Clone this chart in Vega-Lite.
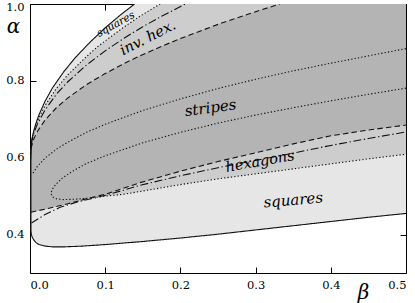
{
  "$schema": "https://vega.github.io/schema/vega-lite/v6.json",
  "width": 376,
  "height": 269,
  "autosize": {"type": "none"},
  "padding": {"left": 30, "top": 4, "right": 9, "bottom": 30},
  "config": {
    "view": {"stroke": null},
    "axis": {
      "grid": false, "zindex": 1, "domainColor": "#000", "tickColor": "#000", "labelColor": "#000",
      "labelFont": "DejaVu Serif", "labelFontSize": 11.5, "tickSize": -6, "domainWidth": 1, "tickWidth": 1,
      "titleFont": "DejaVu Serif", "titleFontStyle": "italic", "titleFontWeight": "normal", "titleFontSize": 20, "titleColor": "#000"
    }
  },
  "datasets": {
    "light": [
      {"b": 0.0012, "lo": 0.41, "hi": 0.59}, {"b": 0.002, "lo": 0.397, "hi": 0.642}, {"b": 0.003, "lo": 0.393, "hi": 0.653},
      {"b": 0.005, "lo": 0.386, "hi": 0.67}, {"b": 0.008, "lo": 0.379, "hi": 0.69}, {"b": 0.012, "lo": 0.374, "hi": 0.712},
      {"b": 0.02, "lo": 0.37, "hi": 0.747}, {"b": 0.03, "lo": 0.368, "hi": 0.782}, {"b": 0.045, "lo": 0.368, "hi": 0.824},
      {"b": 0.06, "lo": 0.369, "hi": 0.86}, {"b": 0.08, "lo": 0.371, "hi": 0.901}, {"b": 0.1, "lo": 0.374, "hi": 0.938},
      {"b": 0.12, "lo": 0.377, "hi": 0.971}, {"b": 0.139, "lo": 0.38, "hi": 1.0}, {"b": 0.15, "lo": 0.382, "hi": 1.0},
      {"b": 0.2, "lo": 0.391, "hi": 1.0}, {"b": 0.25, "lo": 0.401, "hi": 1.0}, {"b": 0.3, "lo": 0.412, "hi": 1.0},
      {"b": 0.35, "lo": 0.423, "hi": 1.0}, {"b": 0.4, "lo": 0.434, "hi": 1.0}, {"b": 0.45, "lo": 0.445, "hi": 1.0},
      {"b": 0.5, "lo": 0.455, "hi": 1.0}
    ],
    "mid": [
      {"b": 0.0015, "lo": 0.459, "hi": 0.63}, {"b": 0.003, "lo": 0.459, "hi": 0.651}, {"b": 0.005, "lo": 0.46, "hi": 0.667},
      {"b": 0.01, "lo": 0.462, "hi": 0.696}, {"b": 0.02, "lo": 0.466, "hi": 0.736}, {"b": 0.035, "lo": 0.473, "hi": 0.78},
      {"b": 0.05, "lo": 0.48, "hi": 0.815}, {"b": 0.075, "lo": 0.493, "hi": 0.863}, {"b": 0.09, "lo": 0.499, "hi": 0.889},
      {"b": 0.1, "lo": 0.5, "hi": 0.904}, {"b": 0.125, "lo": 0.505, "hi": 0.94}, {"b": 0.146, "lo": 0.512, "hi": 0.968},
      {"b": 0.173, "lo": 0.521, "hi": 1.0}, {"b": 0.2, "lo": 0.53, "hi": 1.0}, {"b": 0.25, "lo": 0.545, "hi": 1.0},
      {"b": 0.3, "lo": 0.558, "hi": 1.0}, {"b": 0.35, "lo": 0.571, "hi": 1.0}, {"b": 0.4, "lo": 0.584, "hi": 1.0},
      {"b": 0.45, "lo": 0.597, "hi": 1.0}, {"b": 0.5, "lo": 0.609, "hi": 1.0}
    ],
    "dark": [
      {"b": 0.0012, "lo": 0.458, "hi": 0.624}, {"b": 0.002, "lo": 0.459, "hi": 0.631}, {"b": 0.005, "lo": 0.46, "hi": 0.649},
      {"b": 0.01, "lo": 0.462, "hi": 0.669}, {"b": 0.02, "lo": 0.466, "hi": 0.698}, {"b": 0.035, "lo": 0.473, "hi": 0.73},
      {"b": 0.05, "lo": 0.48, "hi": 0.755}, {"b": 0.075, "lo": 0.493, "hi": 0.79}, {"b": 0.1, "lo": 0.505, "hi": 0.819},
      {"b": 0.125, "lo": 0.521, "hi": 0.845}, {"b": 0.146, "lo": 0.535, "hi": 0.865}, {"b": 0.175, "lo": 0.551, "hi": 0.89},
      {"b": 0.2, "lo": 0.565, "hi": 0.91}, {"b": 0.25, "lo": 0.59, "hi": 0.947}, {"b": 0.3, "lo": 0.613, "hi": 0.98},
      {"b": 0.332, "lo": 0.628, "hi": 1.0}, {"b": 0.35, "lo": 0.636, "hi": 1.0}, {"b": 0.4, "lo": 0.657, "hi": 1.0},
      {"b": 0.45, "lo": 0.672, "hi": 1.0}, {"b": 0.5, "lo": 0.685, "hi": 1.0}
    ],
    "lines": [
      {"id": "U", "s": "solid", "i": 0, "b": 0.5, "a": 0.455}, {"id": "U", "s": "solid", "i": 1, "b": 0.45, "a": 0.445},
      {"id": "U", "s": "solid", "i": 2, "b": 0.4, "a": 0.434}, {"id": "U", "s": "solid", "i": 3, "b": 0.35, "a": 0.423},
      {"id": "U", "s": "solid", "i": 4, "b": 0.3, "a": 0.412}, {"id": "U", "s": "solid", "i": 5, "b": 0.25, "a": 0.401},
      {"id": "U", "s": "solid", "i": 6, "b": 0.2, "a": 0.391}, {"id": "U", "s": "solid", "i": 7, "b": 0.15, "a": 0.382},
      {"id": "U", "s": "solid", "i": 8, "b": 0.1, "a": 0.374}, {"id": "U", "s": "solid", "i": 9, "b": 0.07, "a": 0.37},
      {"id": "U", "s": "solid", "i": 10, "b": 0.045, "a": 0.368}, {"id": "U", "s": "solid", "i": 11, "b": 0.03, "a": 0.368},
      {"id": "U", "s": "solid", "i": 12, "b": 0.02, "a": 0.37}, {"id": "U", "s": "solid", "i": 13, "b": 0.012, "a": 0.374},
      {"id": "U", "s": "solid", "i": 14, "b": 0.008, "a": 0.379}, {"id": "U", "s": "solid", "i": 15, "b": 0.005, "a": 0.386},
      {"id": "U", "s": "solid", "i": 16, "b": 0.003, "a": 0.393}, {"id": "U", "s": "solid", "i": 17, "b": 0.0018, "a": 0.4},
      {"id": "U", "s": "solid", "i": 18, "b": 0.0013, "a": 0.41}, {"id": "U", "s": "solid", "i": 19, "b": 0.0012, "a": 0.5},
      {"id": "U", "s": "solid", "i": 20, "b": 0.0012, "a": 0.59}, {"id": "U", "s": "solid", "i": 21, "b": 0.002, "a": 0.642},
      {"id": "U", "s": "solid", "i": 22, "b": 0.003, "a": 0.653}, {"id": "U", "s": "solid", "i": 23, "b": 0.005, "a": 0.67},
      {"id": "U", "s": "solid", "i": 24, "b": 0.008, "a": 0.69}, {"id": "U", "s": "solid", "i": 25, "b": 0.012, "a": 0.712},
      {"id": "U", "s": "solid", "i": 26, "b": 0.02, "a": 0.747}, {"id": "U", "s": "solid", "i": 27, "b": 0.03, "a": 0.782},
      {"id": "U", "s": "solid", "i": 28, "b": 0.045, "a": 0.824}, {"id": "U", "s": "solid", "i": 29, "b": 0.06, "a": 0.86},
      {"id": "U", "s": "solid", "i": 30, "b": 0.08, "a": 0.901}, {"id": "U", "s": "solid", "i": 31, "b": 0.1, "a": 0.938},
      {"id": "U", "s": "solid", "i": 32, "b": 0.12, "a": 0.971}, {"id": "U", "s": "solid", "i": 33, "b": 0.139, "a": 1.0},

      {"id": "D1", "s": "dash", "i": 0, "b": 0.0012, "a": 0.458}, {"id": "D1", "s": "dash", "i": 1, "b": 0.01, "a": 0.462},
      {"id": "D1", "s": "dash", "i": 2, "b": 0.02, "a": 0.466}, {"id": "D1", "s": "dash", "i": 3, "b": 0.035, "a": 0.473},
      {"id": "D1", "s": "dash", "i": 4, "b": 0.05, "a": 0.48}, {"id": "D1", "s": "dash", "i": 5, "b": 0.075, "a": 0.493},
      {"id": "D1", "s": "dash", "i": 6, "b": 0.1, "a": 0.505}, {"id": "D1", "s": "dash", "i": 7, "b": 0.125, "a": 0.521},
      {"id": "D1", "s": "dash", "i": 8, "b": 0.146, "a": 0.535}, {"id": "D1", "s": "dash", "i": 9, "b": 0.175, "a": 0.551},
      {"id": "D1", "s": "dash", "i": 10, "b": 0.2, "a": 0.565}, {"id": "D1", "s": "dash", "i": 11, "b": 0.25, "a": 0.59},
      {"id": "D1", "s": "dash", "i": 12, "b": 0.3, "a": 0.613}, {"id": "D1", "s": "dash", "i": 13, "b": 0.35, "a": 0.636},
      {"id": "D1", "s": "dash", "i": 14, "b": 0.4, "a": 0.657}, {"id": "D1", "s": "dash", "i": 15, "b": 0.45, "a": 0.672},
      {"id": "D1", "s": "dash", "i": 16, "b": 0.5, "a": 0.685},

      {"id": "D2", "s": "dash", "i": 0, "b": 0.0012, "a": 0.624}, {"id": "D2", "s": "dash", "i": 1, "b": 0.005, "a": 0.649},
      {"id": "D2", "s": "dash", "i": 2, "b": 0.01, "a": 0.669}, {"id": "D2", "s": "dash", "i": 3, "b": 0.02, "a": 0.698},
      {"id": "D2", "s": "dash", "i": 4, "b": 0.035, "a": 0.73}, {"id": "D2", "s": "dash", "i": 5, "b": 0.05, "a": 0.755},
      {"id": "D2", "s": "dash", "i": 6, "b": 0.075, "a": 0.79}, {"id": "D2", "s": "dash", "i": 7, "b": 0.1, "a": 0.819},
      {"id": "D2", "s": "dash", "i": 8, "b": 0.125, "a": 0.845}, {"id": "D2", "s": "dash", "i": 9, "b": 0.146, "a": 0.865},
      {"id": "D2", "s": "dash", "i": 10, "b": 0.175, "a": 0.89}, {"id": "D2", "s": "dash", "i": 11, "b": 0.2, "a": 0.91},
      {"id": "D2", "s": "dash", "i": 12, "b": 0.25, "a": 0.947}, {"id": "D2", "s": "dash", "i": 13, "b": 0.3, "a": 0.98},
      {"id": "D2", "s": "dash", "i": 14, "b": 0.332, "a": 1.0},

      {"id": "B", "s": "dot", "i": 0, "b": 0.0015, "a": 0.63}, {"id": "B", "s": "dot", "i": 1, "b": 0.003, "a": 0.651},
      {"id": "B", "s": "dot", "i": 2, "b": 0.005, "a": 0.667}, {"id": "B", "s": "dot", "i": 3, "b": 0.01, "a": 0.696},
      {"id": "B", "s": "dot", "i": 4, "b": 0.02, "a": 0.736}, {"id": "B", "s": "dot", "i": 5, "b": 0.035, "a": 0.78},
      {"id": "B", "s": "dot", "i": 6, "b": 0.05, "a": 0.815}, {"id": "B", "s": "dot", "i": 7, "b": 0.075, "a": 0.863},
      {"id": "B", "s": "dot", "i": 8, "b": 0.09, "a": 0.889}, {"id": "B", "s": "dot", "i": 9, "b": 0.1, "a": 0.904},
      {"id": "B", "s": "dot", "i": 10, "b": 0.125, "a": 0.94}, {"id": "B", "s": "dot", "i": 11, "b": 0.146, "a": 0.968},
      {"id": "B", "s": "dot", "i": 12, "b": 0.173, "a": 1.0},

      {"id": "E2", "s": "dashdot", "i": 0, "b": 0.0015, "a": 0.634}, {"id": "E2", "s": "dashdot", "i": 1, "b": 0.003, "a": 0.648},
      {"id": "E2", "s": "dashdot", "i": 2, "b": 0.006, "a": 0.668}, {"id": "E2", "s": "dashdot", "i": 3, "b": 0.01, "a": 0.688},
      {"id": "E2", "s": "dashdot", "i": 4, "b": 0.02, "a": 0.724}, {"id": "E2", "s": "dashdot", "i": 5, "b": 0.035, "a": 0.765},
      {"id": "E2", "s": "dashdot", "i": 6, "b": 0.05, "a": 0.797}, {"id": "E2", "s": "dashdot", "i": 7, "b": 0.075, "a": 0.841},
      {"id": "E2", "s": "dashdot", "i": 8, "b": 0.1, "a": 0.878}, {"id": "E2", "s": "dashdot", "i": 9, "b": 0.125, "a": 0.911},
      {"id": "E2", "s": "dashdot", "i": 10, "b": 0.15, "a": 0.941}, {"id": "E2", "s": "dashdot", "i": 11, "b": 0.175, "a": 0.968},
      {"id": "E2", "s": "dashdot", "i": 12, "b": 0.2066, "a": 1.0},

      {"id": "E1", "s": "dashdot", "i": 0, "b": 0.002, "a": 0.43}, {"id": "E1", "s": "dashdot", "i": 1, "b": 0.02, "a": 0.452},
      {"id": "E1", "s": "dashdot", "i": 2, "b": 0.04, "a": 0.471}, {"id": "E1", "s": "dashdot", "i": 3, "b": 0.065, "a": 0.486},
      {"id": "E1", "s": "dashdot", "i": 4, "b": 0.09, "a": 0.497}, {"id": "E1", "s": "dashdot", "i": 5, "b": 0.12, "a": 0.513},
      {"id": "E1", "s": "dashdot", "i": 6, "b": 0.146, "a": 0.528}, {"id": "E1", "s": "dashdot", "i": 7, "b": 0.2, "a": 0.553},
      {"id": "E1", "s": "dashdot", "i": 8, "b": 0.25, "a": 0.574}, {"id": "E1", "s": "dashdot", "i": 9, "b": 0.3, "a": 0.593},
      {"id": "E1", "s": "dashdot", "i": 10, "b": 0.35, "a": 0.612}, {"id": "E1", "s": "dashdot", "i": 11, "b": 0.4, "a": 0.632},
      {"id": "E1", "s": "dashdot", "i": 12, "b": 0.45, "a": 0.65}, {"id": "E1", "s": "dashdot", "i": 13, "b": 0.5, "a": 0.667},

      {"id": "S1", "s": "dot", "i": 0, "b": 0.004, "a": 0.56}, {"id": "S1", "s": "dot", "i": 1, "b": 0.01, "a": 0.578},
      {"id": "S1", "s": "dot", "i": 2, "b": 0.02, "a": 0.599}, {"id": "S1", "s": "dot", "i": 3, "b": 0.035, "a": 0.622},
      {"id": "S1", "s": "dot", "i": 4, "b": 0.05, "a": 0.64}, {"id": "S1", "s": "dot", "i": 5, "b": 0.075, "a": 0.666},
      {"id": "S1", "s": "dot", "i": 6, "b": 0.1, "a": 0.687}, {"id": "S1", "s": "dot", "i": 7, "b": 0.15, "a": 0.723},
      {"id": "S1", "s": "dot", "i": 8, "b": 0.2, "a": 0.753}, {"id": "S1", "s": "dot", "i": 9, "b": 0.25, "a": 0.78},
      {"id": "S1", "s": "dot", "i": 10, "b": 0.3, "a": 0.804}, {"id": "S1", "s": "dot", "i": 11, "b": 0.35, "a": 0.826},
      {"id": "S1", "s": "dot", "i": 12, "b": 0.4, "a": 0.846}, {"id": "S1", "s": "dot", "i": 13, "b": 0.45, "a": 0.865},
      {"id": "S1", "s": "dot", "i": 14, "b": 0.5, "a": 0.884},

      {"id": "H", "s": "dot", "i": 0, "b": 0.5, "a": 0.781}, {"id": "H", "s": "dot", "i": 1, "b": 0.45, "a": 0.765},
      {"id": "H", "s": "dot", "i": 2, "b": 0.4, "a": 0.748}, {"id": "H", "s": "dot", "i": 3, "b": 0.35, "a": 0.73},
      {"id": "H", "s": "dot", "i": 4, "b": 0.3, "a": 0.711}, {"id": "H", "s": "dot", "i": 5, "b": 0.25, "a": 0.69},
      {"id": "H", "s": "dot", "i": 6, "b": 0.2, "a": 0.666}, {"id": "H", "s": "dot", "i": 7, "b": 0.15, "a": 0.639},
      {"id": "H", "s": "dot", "i": 8, "b": 0.1, "a": 0.605}, {"id": "H", "s": "dot", "i": 9, "b": 0.075, "a": 0.585},
      {"id": "H", "s": "dot", "i": 10, "b": 0.055, "a": 0.563}, {"id": "H", "s": "dot", "i": 11, "b": 0.043, "a": 0.547},
      {"id": "H", "s": "dot", "i": 12, "b": 0.034, "a": 0.53}, {"id": "H", "s": "dot", "i": 13, "b": 0.029, "a": 0.516},
      {"id": "H", "s": "dot", "i": 14, "b": 0.028, "a": 0.506}, {"id": "H", "s": "dot", "i": 15, "b": 0.03, "a": 0.498},
      {"id": "H", "s": "dot", "i": 16, "b": 0.035, "a": 0.493}, {"id": "H", "s": "dot", "i": 17, "b": 0.045, "a": 0.491},
      {"id": "H", "s": "dot", "i": 18, "b": 0.06, "a": 0.492}, {"id": "H", "s": "dot", "i": 19, "b": 0.08, "a": 0.495},
      {"id": "H", "s": "dot", "i": 20, "b": 0.1, "a": 0.5}, {"id": "H", "s": "dot", "i": 21, "b": 0.125, "a": 0.505},
      {"id": "H", "s": "dot", "i": 22, "b": 0.146, "a": 0.512}, {"id": "H", "s": "dot", "i": 23, "b": 0.173, "a": 0.521},
      {"id": "H", "s": "dot", "i": 24, "b": 0.2, "a": 0.53}, {"id": "H", "s": "dot", "i": 25, "b": 0.25, "a": 0.545},
      {"id": "H", "s": "dot", "i": 26, "b": 0.3, "a": 0.558}, {"id": "H", "s": "dot", "i": 27, "b": 0.35, "a": 0.571},
      {"id": "H", "s": "dot", "i": 28, "b": 0.4, "a": 0.584}, {"id": "H", "s": "dot", "i": 29, "b": 0.45, "a": 0.597},
      {"id": "H", "s": "dot", "i": 30, "b": 0.5, "a": 0.609}
    ],
    "labels": [
      {"k": "sqtop", "t": "squares", "b": 0.114, "a": 0.947},
      {"k": "inv", "t": "inv. hex.", "b": 0.157, "a": 0.911},
      {"k": "str", "t": "stripes", "b": 0.24, "a": 0.73},
      {"k": "hex", "t": "hexagons", "b": 0.306, "a": 0.589},
      {"k": "sqbot", "t": "squares", "b": 0.35, "a": 0.49}
    ]
  },
  "layer": [
    {
      "layer": [
        {
          "data": {"name": "light"},
          "mark": {"type": "area", "color": "#e6e6e6", "clip": true},
          "encoding": {
            "x": {"field": "b", "type": "quantitative", "title": "β",
              "scale": {"domain": [0, 0.5], "nice": false, "zero": false},
              "axis": {"values": [0, 0.1, 0.2, 0.3, 0.4, 0.5], "format": ".1f", "labelPadding": 12,
                "titleAngle": 0, "titleX": 333, "titleY": 19, "titleAlign": "center", "titleBaseline": "middle"}},
            "y": {"field": "lo", "type": "quantitative", "title": "α",
              "scale": {"domain": [0.3, 1.0], "nice": false, "zero": false},
              "axis": {"values": [0.4, 0.6, 0.8, 1.0], "format": ".1f", "labelPadding": 12, "labelFlush": true, "labelFlushOffset": 3,
                "titleAngle": 0, "titleX": -17, "titleY": 22, "titleAlign": "center", "titleBaseline": "middle"}},
            "y2": {"field": "hi"}
          }
        },
        {
          "data": {"name": "mid"},
          "mark": {"type": "area", "color": "#cdcdcd", "clip": true},
          "encoding": {
            "x": {"field": "b", "type": "quantitative", "title": "β"},
            "y": {"field": "lo", "type": "quantitative", "title": "α"},
            "y2": {"field": "hi"}
          }
        },
        {
          "data": {"name": "dark"},
          "mark": {"type": "area", "color": "#b4b4b4", "clip": true},
          "encoding": {
            "x": {"field": "b", "type": "quantitative", "title": "β"},
            "y": {"field": "lo", "type": "quantitative", "title": "α"},
            "y2": {"field": "hi"}
          }
        },
        {
          "data": {"name": "lines"},
          "mark": {"type": "line", "color": "#111", "strokeWidth": 1.1, "clip": true},
          "encoding": {
            "x": {"field": "b", "type": "quantitative", "title": "β"},
            "y": {"field": "a", "type": "quantitative", "title": "α"},
            "detail": {"field": "id"},
            "order": {"field": "i", "type": "quantitative"},
            "strokeDash": {"field": "s", "type": "nominal", "legend": null,
              "scale": {"domain": ["solid", "dot", "dash", "dashdot"], "range": [[1, 0], [1.3, 2.1], [5.5, 3.2], [8, 2.6, 1.3, 2.6]]}}
          }
        },
        {
          "data": {"name": "labels"},
          "transform": [{"filter": "datum.k == 'sqtop'"}],
          "mark": {"type": "text", "font": "DejaVu Serif", "fontStyle": "italic", "fontSize": 10.5, "angle": 331, "color": "#000", "baseline": "middle"},
          "encoding": {
            "x": {"field": "b", "type": "quantitative", "title": "β"},
            "y": {"field": "a", "type": "quantitative", "title": "α"},
            "text": {"field": "t"}
          }
        },
        {
          "data": {"name": "labels"},
          "transform": [{"filter": "datum.k == 'inv'"}],
          "mark": {"type": "text", "font": "DejaVu Serif", "fontStyle": "italic", "fontSize": 14.5, "angle": 333, "color": "#000", "baseline": "middle"},
          "encoding": {
            "x": {"field": "b", "type": "quantitative", "title": "β"},
            "y": {"field": "a", "type": "quantitative", "title": "α"},
            "text": {"field": "t"}
          }
        },
        {
          "data": {"name": "labels"},
          "transform": [{"filter": "datum.k == 'str'"}],
          "mark": {"type": "text", "font": "DejaVu Serif", "fontStyle": "italic", "fontSize": 15, "angle": 352, "color": "#000", "baseline": "middle"},
          "encoding": {
            "x": {"field": "b", "type": "quantitative", "title": "β"},
            "y": {"field": "a", "type": "quantitative", "title": "α"},
            "text": {"field": "t"}
          }
        },
        {
          "data": {"name": "labels"},
          "transform": [{"filter": "datum.k == 'hex'"}],
          "mark": {"type": "text", "font": "DejaVu Serif", "fontStyle": "italic", "fontSize": 14.5, "angle": 350, "color": "#000", "baseline": "middle"},
          "encoding": {
            "x": {"field": "b", "type": "quantitative", "title": "β"},
            "y": {"field": "a", "type": "quantitative", "title": "α"},
            "text": {"field": "t"}
          }
        },
        {
          "data": {"name": "labels"},
          "transform": [{"filter": "datum.k == 'sqbot'"}],
          "mark": {"type": "text", "font": "DejaVu Serif", "fontStyle": "italic", "fontSize": 15, "angle": 355, "color": "#000", "baseline": "middle"},
          "encoding": {
            "x": {"field": "b", "type": "quantitative", "title": "β"},
            "y": {"field": "a", "type": "quantitative", "title": "α"},
            "text": {"field": "t"}
          }
        }
      ]
    },
    {
      "data": {"name": "light"},
      "mark": {"type": "point", "opacity": 0},
      "encoding": {
        "x": {"field": "b", "type": "quantitative",
          "scale": {"domain": [0, 0.5], "nice": false, "zero": false},
          "axis": {"orient": "top", "labels": false, "title": null, "values": [0, 0.1, 0.2, 0.3, 0.4, 0.5]}},
        "y": {"field": "lo", "type": "quantitative",
          "scale": {"domain": [0.3, 1.0], "nice": false, "zero": false},
          "axis": {"orient": "right", "labels": false, "title": null, "values": [0.4, 0.6, 0.8, 1.0]}}
      }
    }
  ],
  "resolve": {"axis": {"x": "independent", "y": "independent"}}
}
